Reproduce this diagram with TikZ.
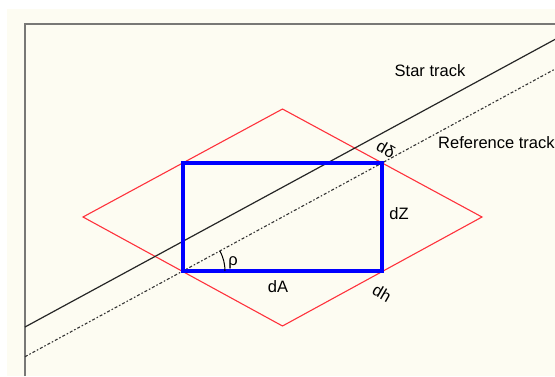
\documentclass[tikz,border=0pt]{standalone}
\usepackage{fontspec}
\setmainfont{Liberation Sans}
\usetikzlibrary{calc}
\definecolor{paper}{RGB}{253,252,242}
\definecolor{framegray}{RGB}{120,120,118}
\definecolor{boxred}{RGB}{255,50,60}

\begin{document}
\begin{tikzpicture}[x=1pt, y=-1pt,
    lbl/.style={font=\fontsize{16.5}{19}\selectfont, inner sep=0pt},
    track/.style={draw=black!85, line width=1.2pt},
    reftrack/.style={draw=black!80, line width=1.1pt, dash pattern=on 3pt off 2pt on 1.5pt off 2pt}]
                % Page and frame
                \useasboundingbox (0,0) rectangle (555,376);
                \fill[white] (0,0) rectangle (555,376);
                \fill[paper] (7,9) rectangle (555,376);
                \draw[framegray, line width=2.4pt] (25,376) -- (25,24) -- (555,24);

                % Corners of dA x dZ box
                \coordinate (sw) at (183,271);
                \coordinate (se) at (382,271);
                \coordinate (ne) at (382,163);
                \coordinate (nw) at (183,163);

                % Red diamond
                \coordinate (dl) at (83,217);
                \coordinate (dt) at (282.5,109);
                \coordinate (dr) at (482,217);
                \coordinate (db) at (282.5,326);
                \draw[boxred, line width=1.1pt] (dl) -- (dt) -- (dr) -- (db) -- cycle;

                % Tracks
                \coordinate (star-a) at (25,327);
                \coordinate (star-b) at (555,39.4);
                \coordinate (ref-a) at (25,356.7);
                \coordinate (ref-b) at (555,69.1);
                \draw[track] (star-a) -- (star-b);
                \draw[reftrack] (ref-a) -- (ref-b);

                % Blue box
                \draw[blue, line width=3.8pt, line join=miter] (sw) rectangle (ne);

                % Angle rho
                \draw[black, line width=1pt] ($(sw)+(42,0)$) arc[start angle=0, end angle=-28.5, radius=42];
                \node[lbl] (rho) at (233,263) {ρ};

                % Labels
                \node[lbl] (star) at (430,71) {Star track};
                \node[lbl, anchor=west] (ref) at (438,143) {Reference track};
                \node[lbl] (dA) at (278,287) {dA};
                \node[lbl] (dZ) at (399,214) {dZ};
                \node[lbl, rotate=-30] (ddelta) at (386,149) {dδ};
                \node[lbl, rotate=-30] (dh) at (382,293) {dh};
            \end{tikzpicture}
\end{document}
